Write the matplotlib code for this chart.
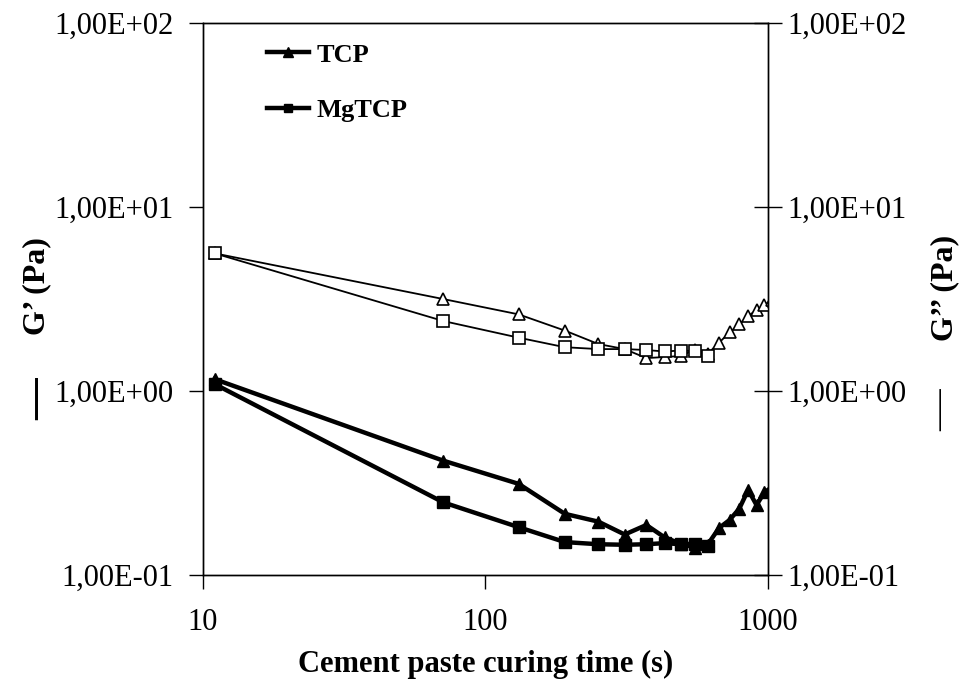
import matplotlib
matplotlib.use("Agg")
import matplotlib.pyplot as plt
from matplotlib.ticker import NullLocator

plt.rcParams['font.family'] = ['Liberation Serif', 'DejaVu Serif']

# curing time (s)
time_tcp = [11, 71, 131, 191, 251, 311, 371, 431, 491, 551, 611,
            671, 731, 791, 851, 911, 971, 1031]
time_mg = [11, 71, 131, 191, 251, 311, 371, 431, 491, 551, 611]

# G' (Pa), filled markers, thick lines
g1_tcp = [1.16, 0.418, 0.313, 0.215, 0.195, 0.166, 0.187, 0.160, 0.148, 0.141, 0.146,
          0.180, 0.199, 0.229, 0.290, 0.240, 0.281, 0.300]
g1_mg = [1.09, 0.248, 0.182, 0.151, 0.147, 0.146, 0.147, 0.149, 0.147, 0.148, 0.143]

# G'' (Pa), open markers, thin lines
g2_tcp = [5.60, 3.16, 2.61, 2.13, 1.80, 1.69, 1.51, 1.53, 1.55, 1.68, 1.59,
          1.83, 2.08, 2.30, 2.56, 2.75, 2.93, 3.13]
g2_mg = [5.60, 2.40, 1.95, 1.73, 1.69, 1.69, 1.67, 1.64, 1.66, 1.65, 1.55]

x_ticks = [10, 100, 1000]
x_ticklabels = ['10', '100', '1000']
y_ticks = [0.1, 1, 10, 100]
y_ticklabels = ['1,00E-01', '1,00E+00', '1,00E+01', '1,00E+02']

fig = plt.figure(figsize=(9.62, 6.83), dpi=100)
ax = fig.add_axes([0.2110, 0.1581, 0.5873, 0.8082])
ax2 = ax.twinx()

for a in (ax, ax2):
    a.set_xscale('log')
    a.set_yscale('log')
    a.set_xlim(10, 1000)
    a.set_ylim(0.1, 100)
    for s in a.spines.values():
        s.set_linewidth(1.0)
        s.set_color('black')

# G' on primary axis
l1, = ax.plot(time_tcp, g1_tcp, color='black', lw=3.2, marker='^', ms=9,
              mfc='black', mec='black', label='TCP')
l2, = ax.plot(time_mg, g1_mg, color='black', lw=3.2, marker='s', ms=8,
              mfc='black', mec='black', label='MgTCP')

# G'' on secondary axis
ax2.plot(time_tcp, g2_tcp, color='black', lw=1.3, marker='^', ms=9,
         mfc='white', mec='black', mew=1.2)
ax2.plot(time_mg, g2_mg, color='black', lw=1.3, marker='s', ms=8,
         mfc='white', mec='black', mew=1.2)

ax.set_xticks(x_ticks)
ax.set_xticklabels(x_ticklabels)
ax.set_yticks(y_ticks)
ax.set_yticklabels(y_ticklabels)
ax2.set_yticks(y_ticks)
ax2.set_yticklabels(y_ticklabels)
ax.xaxis.set_minor_locator(NullLocator())
ax.yaxis.set_minor_locator(NullLocator())
ax2.yaxis.set_minor_locator(NullLocator())

ax.tick_params(axis='x', direction='out', length=10, width=1, labelsize=22, pad=14)
ax.tick_params(axis='y', direction='out', length=10, width=1, labelsize=22, pad=11)
ax2.tick_params(axis='y', direction='inout', length=20, width=1, labelsize=22, pad=4)

ax.set_xlabel('Cement paste curing time (s)', fontsize=22, fontweight='bold')
ax.xaxis.set_label_coords(0.5, -0.135)
ax.xaxis.label.set_va('top')

# axis titles with line-style dash
fig.text(37 / 962, 1 - 286 / 683, 'G\u2019 (Pa)', rotation=90, ha='center', va='center',
         fontsize=23, fontweight='bold')
fig.text(37 / 962, 1 - 399 / 683, '\u2014', rotation=90, ha='center', va='center',
         fontsize=30, fontweight='bold')
fig.text(945 / 962, 1 - 288 / 683, 'G\u2019\u2019 (Pa)', rotation=90, ha='center', va='center',
         fontsize=23, fontweight='bold')
fig.text(941 / 962, 1 - 410 / 683, '\u2014', rotation=90, ha='center', va='center',
         fontsize=30)

leg = ax.legend(handles=[l1, l2], loc='upper left', bbox_to_anchor=(0.08, 0.997),
                frameon=False, markerscale=0.75, handlelength=1.6,
                handletextpad=0.3, labelspacing=1.2, borderpad=0.2,
                prop={'weight': 'bold', 'size': 19})

fig.savefig('out.png', dpi=100)
